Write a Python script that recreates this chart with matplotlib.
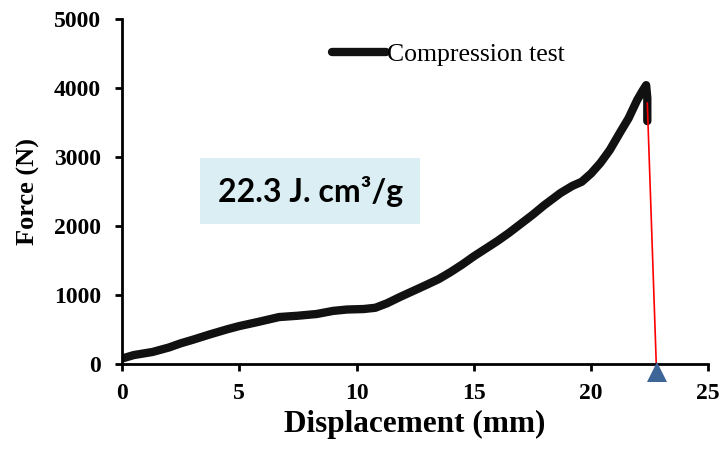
import matplotlib
matplotlib.use("Agg")
import matplotlib.pyplot as plt
from matplotlib.transforms import offset_copy

# displacement (mm) and force (N)
disp = [0.0, 0.5, 1.3, 2.0, 2.5, 3.0, 3.75, 4.5, 5.0, 5.8, 6.7, 7.5, 8.3, 9.0, 9.6, 10.3,
        10.8, 11.3, 11.85, 12.5, 13.0, 13.5, 14.0, 14.5, 15.0, 15.5, 16.0, 16.5, 17.0,
        17.5, 18.0, 18.7, 19.2, 19.6, 20.0, 20.4, 20.8, 21.25, 21.6, 21.97, 22.2, 22.35,
        22.4, 22.4]
force = [80, 130, 175, 240, 300, 350, 430, 505, 550, 610, 681, 700, 725, 770, 790, 797,
         815, 880, 971, 1072, 1150, 1230, 1330, 1440, 1560, 1670, 1780, 1900, 2030,
         2160, 2300, 2478, 2580, 2640, 2760, 2913, 3100, 3362, 3560, 3826, 3960, 4040,
         3850, 3520]

# red drop line and triangle marker
drop_x = [22.4, 22.78]
drop_y = [3780, 20]
marker_x = 22.8

fig = plt.figure(figsize=(7.22, 4.5), dpi=100)
ax = fig.add_axes([0.169, 0.191, 0.812, 0.767])

ax.plot(disp, force, color="#111111", lw=6, solid_capstyle="round",
        solid_joinstyle="round", label="Compression test")
ax.plot(drop_x, drop_y, color="red", lw=1.2)
tri = offset_copy(ax.transData, fig=fig, x=0, y=-8, units="dots")
ax.plot([marker_x], [0], marker="^", markersize=14, color="#3D6597",
        clip_on=False, zorder=5, markeredgewidth=0, transform=tri)

ax.set_xlim(0, 25)
ax.set_ylim(0, 5000)
ax.set_xticks([0, 5, 10, 15, 20, 25])
ax.set_yticks([0, 1000, 2000, 3000, 4000, 5000])

for s in ["top", "right"]:
    ax.spines[s].set_visible(False)
for s in ["left", "bottom"]:
    ax.spines[s].set_linewidth(2)

ax.tick_params(direction="out", length=5, width=2)
ax.tick_params(axis="y", pad=10)
ax.tick_params(axis="x", pad=9)
for lab in ax.get_xticklabels() + ax.get_yticklabels():
    lab.set_fontfamily("Liberation Serif")
    lab.set_fontweight("bold")
    lab.set_fontsize(17)

ax.set_xlabel("Displacement (mm)", fontfamily="Liberation Serif", fontweight="bold",
              fontsize=22.5, labelpad=4)
ax.set_ylabel("Force (N)", fontfamily="Liberation Serif", fontweight="bold",
              fontsize=19, labelpad=10)

leg = ax.legend(loc="center left", bbox_to_anchor=(0.358, 0.896), frameon=False,
                prop={"family": "Liberation Serif", "size": 18.5},
                handlelength=2.1, handletextpad=0.05, borderpad=0, borderaxespad=0)

ax.text(0.321, 0.501, "22.3 J. cm\u00b3/g", transform=ax.transAxes, ha="center",
        va="center", fontfamily="Lato", fontweight="bold", fontsize=23,
        bbox=dict(boxstyle="square,pad=0.55", facecolor="#DAEEF3", edgecolor="none"))

fig.savefig("out.png", dpi=100)
